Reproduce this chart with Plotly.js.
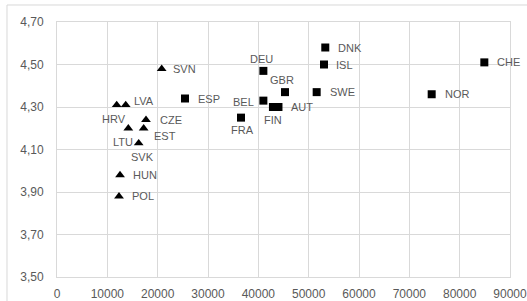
<!DOCTYPE html>
<html>
<head>
<meta charset="utf-8">
<script src="https://cdn.plot.ly/plotly-3.0.1.min.js"></script>
<style>html,body{margin:0;padding:0;background:#fff;}#chart{width:527px;height:301px;}</style>
</head>
<body>
<div id="chart"></div>
<script>
// Triangles (group A)
const countriesA = ['SVN','LVA','HRV','CZE','LTU','EST','SVK','HUN','POL'];
const gdpA = [20800, 13650, 11860, 17680, 14170, 17220, 16230, 12520, 12320];
const scoreA = [4.48, 4.31, 4.31, 4.24, 4.20, 4.20, 4.13, 3.98, 3.88];

// Squares (group B)
const countriesB = ['ESP','FRA','DEU','BEL','FIN','AUT','GBR','SWE','ISL','DNK','NOR','CHE'];
const gdpB = [25430, 36560, 41000, 41000, 42900, 44000, 45300, 51590, 53050, 53300, 74440, 84900];
const scoreB = [4.34, 4.25, 4.47, 4.33, 4.30, 4.30, 4.37, 4.37, 4.50, 4.58, 4.36, 4.51];

const xTicks = [0,10000,20000,30000,40000,50000,60000,70000,80000,90000];
const yTicks = [3.5,3.7,3.9,4.1,4.3,4.5,4.7];

// label placement styles: [anchor, dx(px), dy(px, down positive)]
const defaultPlace = ['left', 12, 0];
const labelPlace = {
  SVN: ['left', 10, 0],
  LVA: ['left', 7, -4],
  HRV: ['center', -3, 14],
  CZE: ['left', 13, 0],
  LTU: ['center', -5, 14],
  EST: ['left', 9, 8],
  SVK: ['center', 4, 14],
  FRA: ['center', 1, 12.5],
  DEU: ['center', -2, -12],
  BEL: ['right', -8, 1],
  FIN: ['center', 0, 13],
  GBR: ['center', -3, -12],
  ISL: ['left', 11, 0]
};

const labelFont = {family: 'Liberation Sans, Arial, sans-serif', size: 11, color: '#595959'};

function makeAnnotations(names, xs, ys) {
  return names.map((n, i) => {
    const p = labelPlace[n] || defaultPlace;
    return {
      x: xs[i], y: ys[i], xref: 'x', yref: 'y',
      text: n, showarrow: false,
      xanchor: p[0], yanchor: 'middle',
      xshift: p[1], yshift: -p[2],
      font: labelFont, borderpad: 0
    };
  });
}

const traces = [
  {
    x: gdpA, y: scoreA, text: countriesA, type: 'scatter', mode: 'markers',
    marker: {symbol: 'triangle-up', size: 8.5, color: '#000000'},
    hoverinfo: 'text+x+y', cliponaxis: false
  },
  {
    x: gdpB, y: scoreB, text: countriesB, type: 'scatter', mode: 'markers',
    marker: {symbol: 'square', size: 8, color: '#000000'},
    hoverinfo: 'text+x+y', cliponaxis: false
  }
];

const tickFont = {family: 'Liberation Sans, Arial, sans-serif', size: 12, color: '#595959'};

const layout = {
  width: 527, height: 301,
  margin: {l: 57, r: 17, t: 22, b: 24, pad: 0},
  paper_bgcolor: '#ffffff', plot_bgcolor: '#ffffff',
  showlegend: false,
  separators: ',.',
  xaxis: {
    range: [0, 90000], tickvals: xTicks, tickformat: 'd',
    showgrid: true, gridcolor: '#d9d9d9', gridwidth: 1,
    zeroline: false, showline: true, linecolor: '#d9d9d9', linewidth: 1, mirror: true,
    ticks: '', tickfont: tickFont, ticklabelstandoff: 6, ticklabeloverflow: 'allow', fixedrange: true
  },
  yaxis: {
    range: [3.5, 4.7], tickvals: yTicks, tickformat: '.2f',
    showgrid: true, gridcolor: '#d9d9d9', gridwidth: 1,
    zeroline: false, showline: true, linecolor: '#d9d9d9', linewidth: 1, mirror: true,
    ticks: '', tickfont: tickFont, ticklabelstandoff: 10, ticklabeloverflow: 'allow', fixedrange: true
  },
  annotations: makeAnnotations(countriesA, gdpA, scoreA).concat(makeAnnotations(countriesB, gdpB, scoreB)),
  shapes: [{
    type: 'rect', xref: 'paper', yref: 'paper',
    x0: -0.1104, x1: 1.2, y0: -0.3, y1: 1.0667,
    line: {color: '#d9d9d9', width: 1}, fillcolor: 'rgba(0,0,0,0)', layer: 'below'
  }]
};

Plotly.newPlot('chart', traces, layout, {displayModeBar: false, staticPlot: true});
</script>
</body>
</html>
